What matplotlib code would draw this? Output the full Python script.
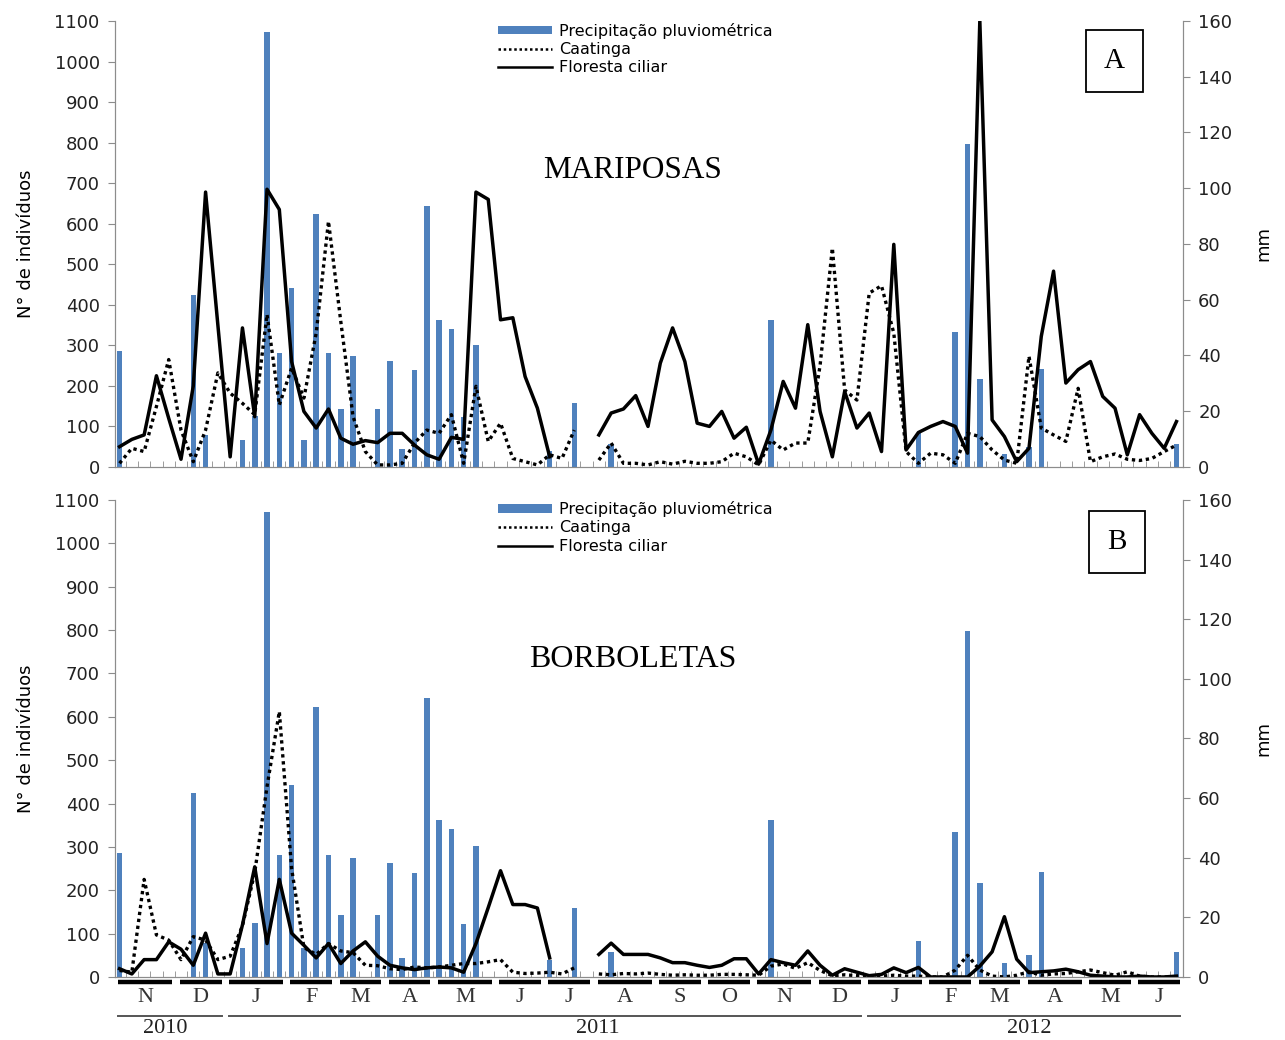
import numpy as np
import matplotlib
matplotlib.use('Agg')
import matplotlib.pyplot as plt
from matplotlib.lines import Line2D
from matplotlib.patches import Patch
import matplotlib.transforms as mtransforms

nan = np.nan

# precipitation (mm), one value per sample (87 samples, Nov 2010 - Jun 2012)
precip = [41.5, 0, 0, 0, 0, 0, 61.6, 11.5, 0, 0,
          9.7, 18.2, 156, 41, 64.3, 9.7, 90.6, 41, 20.8, 39.9,
          0, 20.8, 38.1, 6.4, 34.9, 93.6, 52.8, 49.5, 17.9, 43.9,
          0, 0, 0, 0, 0, 5.8, 0, 23, 0, 0,
          8.4, 0, 0, 0, 0, 0, 0, 0, 0, 0,
          0, 0, 0, 52.8, 0, 0, 0, 0, 0, 0,
          0, 0, 0, 0, 0, 12.2, 0, 0, 48.5, 116,
          31.5, 0, 4.7, 0, 7.3, 35.2, 0, 0, 0, 0,
          0, 0, 0, 0, 0, 0, 8.3]

# A - Mariposas
mar_floresta = [50, 68, 79, 225, 120, 19, 200, 678, 350, 25,
                343, 124, 685, 635, 260, 137, 96, 143, 71, 56,
                65, 60, 83, 83, 54, 30, 19, 73, 68, 678,
                660, 363, 368, 223, 145, 25, nan, nan, nan, 79,
                133, 143, 176, 100, 256, 343, 260, 108, 100, 137,
                71, 98, 7, 91, 211, 145, 351, 137, 25, 186,
                96, 133, 38, 549, 42, 85, 100, 112, 100, 34,
                1100, 116, 75, 13, 46, 322, 483, 207, 240, 260,
                174, 145, 30, 129, 83, 46, 112]
mar_caatinga = [9, 46, 38, 149, 265, 91, 13, 91, 232, 182,
                157, 129, 376, 153, 244, 170, 330, 606, 359, 124,
                38, 5, 5, 9, 59, 91, 83, 129, 9, 199,
                63, 108, 21, 13, 5, 30, 21, 91, nan, 17,
                59, 9, 9, 5, 13, 7, 14, 9, 9, 13,
                34, 25, 5, 66, 42, 59, 59, 250, 540, 190,
                165, 429, 447, 330, 38, 9, 34, 30, 9, 83,
                75, 42, 17, 9, 273, 96, 79, 63, 194, 13,
                25, 32, 19, 16, 21, 38, 54]

# B - Borboletas
bor_floresta = [19, 7, 40, 40, 81, 64, 27, 101, 7, 7,
                120, 254, 77, 225, 101, 73, 44, 77, 31, 60,
                81, 48, 27, 21, 17, 21, 23, 21, 11, 77,
                160, 245, 167, 167, 159, 44, nan, nan, nan, 52,
                78, 52, 52, 52, 44, 33, 33, 27, 22, 27,
                42, 42, 7, 40, 33, 27, 60, 27, 4, 19,
                11, 3, 6, 21, 10, 22, 0, 0, 0, 0,
                25, 58, 139, 41, 10, 12, 14, 18, 12, 4,
                2, 0, 0, 2, 0, 0, 2]
bor_caatinga = [15, 11, 225, 97, 85, 40, 93, 85, 40, 48,
                118, 241, 439, 612, 250, 68, 52, 77, 60, 56,
                27, 26, 19, 17, 23, 21, 23, 27, 31, 31,
                35, 40, 11, 8, 9, 11, 7, 21, nan, 7,
                5, 8, 7, 9, 6, 4, 5, 4, 4, 6,
                6, 5, 4, 25, 30, 20, 33, 15, 3, 5,
                3, 2, 2, 4, 2, 2, 0, 0, 16, 50,
                16, 2, 0, 4, 12, 4, 7, 8, 12, 16,
                10, 4, 12, 2, 0, 0, 0]

months = ['N', 'D', 'J', 'F', 'M', 'A', 'M', 'J', 'J', 'A',
          'S', 'O', 'N', 'D', 'J', 'F', 'M', 'A', 'M', 'J']
month_counts = [5, 4, 5, 4, 4, 4, 5, 4, 4, 5, 4, 4, 5, 4, 5, 4, 4, 5, 4, 4]
years = ['2010', '2011', '2012']
year_months = [(0, 1), (2, 13), (14, 19)]   # first / last month of each year
year_label_pos = [3.7, 38.9, 74.0]

BLUE = '#4f81bd'
GREY = '#8c8c8c'
serif = 'Liberation Serif'

x = np.arange(len(precip))

fig = plt.figure(figsize=(12.85, 10.4), dpi=100)
ax_top = fig.add_axes([0.0895, 0.551, 0.8311, 0.4288])
ax_bot = fig.add_axes([0.0895, 0.0606, 0.8311, 0.4587])


def panel(ax, floresta, caatinga, title, letter, title_size, box_xy):
    axr = ax.twinx()
    axr.bar(x, precip, width=0.45, color=BLUE, edgecolor='none')
    axr.set_ylim(0, 160)
    axr.set_yticks(range(0, 161, 20))
    axr.set_ylabel('mm', fontsize=13, labelpad=16)

    ax.plot(x, caatinga, color='black', ls=(0, (1, 1.1)), lw=2.4)
    ax.plot(x, floresta, color='black', lw=2.5)
    ax.set_zorder(axr.get_zorder() + 1)
    ax.patch.set_visible(False)

    ax.set_ylim(0, 1100)
    ax.set_yticks(range(0, 1101, 100))
    ax.set_xlim(-0.37, len(x) - 1 + 0.53)
    ax.set_xticks([])
    ax.set_xticks(x + 0.5, minor=True)
    ax.tick_params(axis='x', which='minor', direction='in', length=4, color=GREY)
    ax.set_ylabel('N° de indivíduos', fontsize=13, labelpad=14)

    for a in (ax, axr):
        a.spines['top'].set_visible(False)
        for s in ('left', 'right', 'bottom'):
            a.spines[s].set_color(GREY)
        a.tick_params(axis='y', direction='out', length=5, color=GREY,
                      labelsize=13, pad=6, labelcolor='#222222')

    ax.text(0.485, 0.665, title, transform=ax.transAxes, ha='center',
            va='center', fontsize=title_size, family=serif)

    handles = [Patch(facecolor=BLUE, edgecolor='none'),
               Line2D([], [], color='black', ls=(0, (1, 1.1)), lw=1.8),
               Line2D([], [], color='black', lw=1.8)]
    labels = ['Precipitação pluviométrica', 'Caatinga', 'Floresta ciliar']
    ax.legend(handles, labels, loc='upper left', bbox_to_anchor=(0.351, 1.014),
              frameon=False, fontsize=11.5, handlelength=3.4, handleheight=0.45,
              handletextpad=0.45, labelspacing=0.2, borderpad=0)

    ax.text(box_xy[0], box_xy[1], letter, transform=ax.transAxes, ha='center',
            va='center', fontsize=21, family=serif,
            bbox=dict(boxstyle='square,pad=0.62', facecolor='white',
                      edgecolor='black', lw=1.3))
    return axr


panel(ax_top, mar_floresta, mar_caatinga, 'MARIPOSAS', 'A', 22.5, (0.936, 0.910))
panel(ax_bot, bor_floresta, bor_caatinga, 'BORBOLETAS', 'B', 23, (0.938, 0.911))

# month and year markers under the lower panel
trans = mtransforms.blended_transform_factory(ax_bot.transData, ax_bot.transAxes)
starts = np.concatenate([[0], np.cumsum(month_counts)[:-1]])
ends = np.cumsum(month_counts) - 1
for m, s, e in zip(months, starts, ends):
    ax_bot.plot([s - 0.1, e + 0.3], [-0.011, -0.011], transform=trans,
                color='black', lw=3.2, clip_on=False, solid_capstyle='butt')
    ax_bot.text((s + e) / 2 + 0.1, -0.042, m, transform=trans, ha='center',
                va='center', fontsize=16, family=serif, color='#333333')
for y, (m0, m1), pos in zip(years, year_months, year_label_pos):
    ax_bot.plot([starts[m0] - 0.1, ends[m1] + 0.3], [-0.081, -0.081],
                transform=trans, color='#555555', lw=1.4, clip_on=False)
    ax_bot.text(pos, -0.108, y, transform=trans, ha='center', va='center',
                fontsize=16, family=serif, color='#222222')

fig.savefig('out.png', dpi=100)
